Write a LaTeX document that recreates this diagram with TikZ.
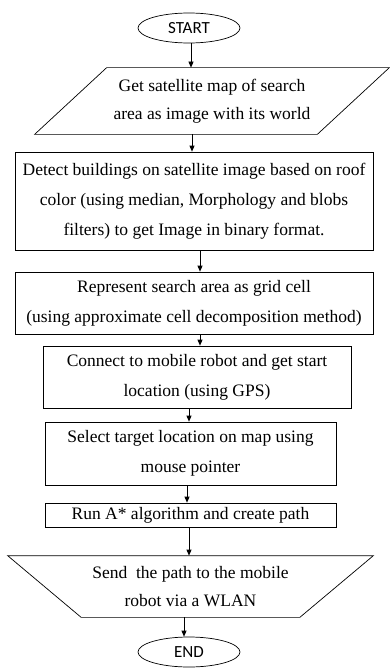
\documentclass[tikz,border=0pt]{standalone}
\usepackage{fontspec}
\setmainfont{Liberation Serif}
\newfontfamily\termfont{Carlito}
\usepackage{tikz}
\usetikzlibrary{shapes.geometric}
\usetikzlibrary{arrows.meta}
\usetikzlibrary{calc}
\tikzstyle{terminal}=[draw,ellipse,inner sep=0pt,minimum width=102pt,minimum height=30pt,font=\termfont\fontsize{17}{20}\selectfont]
\tikzstyle{process}=[draw,rectangle,inner sep=0pt,align=center,font=\fontsize{17.5}{30}\selectfont]
\tikzstyle{io}=[rectangle,inner sep=0pt,align=center,font=\fontsize{17.5}{28}\selectfont]
\tikzstyle{flow}=[-{Triangle[length=6pt,width=5pt]}]

\begin{document}
\begin{tikzpicture}[x=1pt,y=1pt,line width=0.7pt]
        \useasboundingbox (0,0) rectangle (389,-669);

        \node[terminal] (start) at (189,-28) {START};

        % input: the parallelogram is drawn round an empty box
        \node[io,minimum width=282pt,minimum height=66pt] (get) at (212,-101)
          {Get satellite map of search\\area as image with its world};
        \draw ($(get.north west)+(36,0)$) -- ($(get.north east)+(36,0)$)
          -- ($(get.south east)-(36,0)$) -- ($(get.south west)-(36,0)$) -- cycle;

        \node[process,minimum width=358pt,minimum height=98pt] (detect) at (194,-201)
          {Detect buildings on satellite image based on roof\\color (using median, Morphology and blobs\\filters) to get Image in binary format.};
        \node[process,minimum width=358pt,minimum height=62pt] (grid) at (194,-303)
          {Represent search area as grid cell\\(using approximate cell decomposition method)};
        \node[process,minimum width=308pt,minimum height=62pt] (connect) at (197,-377)
          {Connect to mobile robot and get start\\location (using GPS)};
        \node[process,minimum width=291pt,minimum height=63pt] (target) at (190.5,-453.5)
          {Select target location on map using\\mouse pointer};
        \node[process,minimum width=291pt,minimum height=24pt] (astar) at (190.5,-515)
          {Run A* algorithm and create path};

        % output: wide at the top, narrow at the bottom
        \node[io,minimum width=291.5pt,minimum height=61pt] (send) at (190.5,-586.5)
          {Send\ \ the path to the mobile\\robot via a WLAN};
        \draw ($(send.north west)-(36.75,0)$) -- ($(send.north east)+(36.75,0)$)
          -- ($(send.south east)-(36.75,0)$) -- ($(send.south west)+(36.75,0)$) -- cycle;

        \node[terminal] (end) at (189,-652) {END};

        \foreach \a/\b/\s/\t in {start/get/2/-21,get/detect/-20/-2,detect/grid/6/6,
          grid/connect/6/3,connect/target/-8/-1.5,target/astar/-3.5/-3.5,
          astar/send/-1.5/-1.5,send/end/-6.5/-5}{
          \draw[flow] ([xshift=\s pt]\a.south) -- ([xshift=\t pt]\b.north);
        }
      \end{tikzpicture}
\end{document}
